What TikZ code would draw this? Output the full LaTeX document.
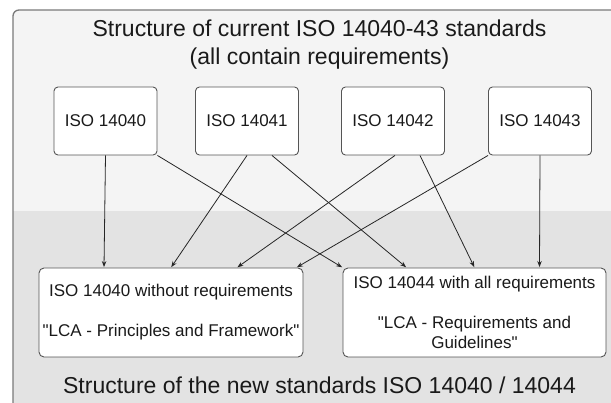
\documentclass[tikz,border=0pt]{standalone}
\usepackage{fontspec}
\setmainfont{Liberation Sans}[Ligatures=TeXOff]
\usetikzlibrary{arrows.meta}
\definecolor{panelTop}{HTML}{F4F4F4}
\definecolor{panelLow}{HTML}{E3E3E3}
\definecolor{frameGray}{HTML}{7A7A7A}
\definecolor{boxLine}{HTML}{555555}
\definecolor{inkDark}{HTML}{1A1A1A}
\begin{document}
\begin{tikzpicture}[x=1pt,y=-1pt,
  stdbox/.style={draw=boxLine, fill=white, line width=0.9pt, rounded corners=4pt,
    minimum width=103pt, minimum height=68pt, inner sep=0pt, text=inkDark,
    font=\fontsize{17}{20}\selectfont},
  bigbox/.style={draw=boxLine, fill=white, line width=0.9pt, rounded corners=5pt,
    minimum width=264pt, minimum height=89pt, inner sep=0pt, align=center, text=inkDark,
    font=\fontsize{17}{20}\selectfont},
  heading/.style={align=center, text=inkDark, font=\fontsize{23}{28}\selectfont},
  conn/.style={draw=black!85, line width=0.8pt, -{Stealth[length=6pt,width=4.5pt]}, shorten >=0.5pt}
]
\useasboundingbox (0,0) rectangle (611,403);
\clip (0,0) rectangle (611,403);

% panel: light upper band, darker lower band, grey frame
\fill[panelTop, rounded corners=6pt] (13,10) rectangle (640,430);
\fill[panelLow] (13,211) rectangle (640,430);
\draw[frameGray, line width=1.3pt, rounded corners=6pt] (13,430) -- (13,10) -- (640,10);

% headings
\node[heading] (topTitle) at (319.5,45) {Structure of current ISO 14040-43 standards\\(all contain requirements)};
\node[heading] (lowTitle) at (319.5,385) {Structure of the new standards ISO 14040 / 14044};

% current standards
\node[stdbox] (b1) at (105.5,121) {ISO 14040};
\node[stdbox] (b2) at (247,121) {ISO 14041};
\node[stdbox] (b3) at (393,121) {ISO 14042};
\node[stdbox] (b4) at (540,121) {ISO 14043};

% new standards
\node[bigbox] (l) at (171,312.5) {ISO 14040 without requirements\\[20pt]"LCA - Principles and Framework"};
\node[bigbox, minimum width=263pt] (r) at (474.5,312.5) {ISO 14044 with all requirements\\[20pt]"LCA - Requirements and\\Guidelines"};

% mapping of old to new
\draw[conn] (b1.south) -- ([xshift=-67pt]l.north);
\draw[conn] (b1.south east) -- (r.north west);
\draw[conn] (b2.south) -- (l.north);
\draw[conn] ([xshift=25pt]b2.south) -- ([xshift=-68pt]r.north);
\draw[conn] ([xshift=2pt]b3.south) -- ([xshift=66pt]l.north);
\draw[conn] ([xshift=27pt]b3.south) -- (r.north);
\draw[conn] (b4.south west) -- ([xshift=-7pt]l.north east);
\draw[conn] (b4.south) -- ([xshift=65pt]r.north);
\end{tikzpicture}
\end{document}
